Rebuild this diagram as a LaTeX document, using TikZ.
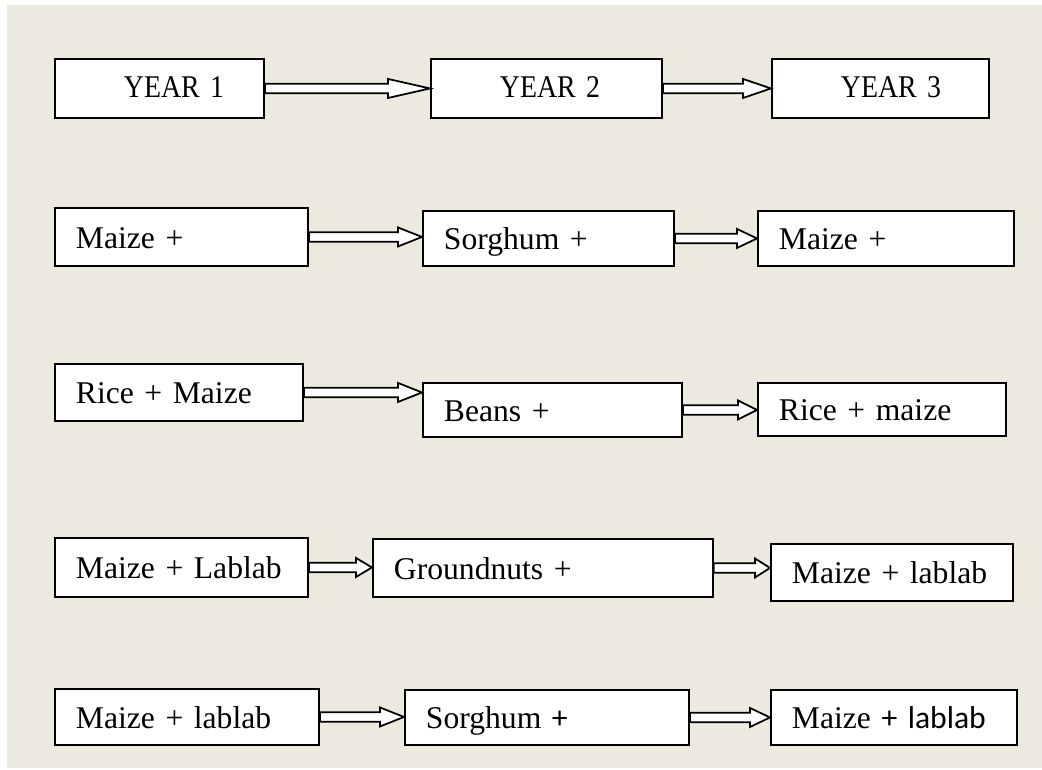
\documentclass[tikz,border=0pt]{standalone}
\usepackage{fontspec}
\setmainfont{Liberation Serif}
\newfontfamily\yearfont{Liberation Serif}[FakeStretch=0.88]
\newfontfamily\calibrifont{Carlito}
\usetikzlibrary{calc}
\definecolor{paper}{RGB}{236,233,223}

\begin{document}
\begin{tikzpicture}[x = 0.02cm, y = -0.02cm]
  \useasboundingbox (0,0) rectangle (1042,770);
  \fill[paper] (7,5) rectangle (1042,768);
  \tikzset{BoxStyle/.style 2 args = {draw,
                                     fill           = white,
                                     line width     = 1.1pt,
                                     anchor         = north west,
                                     align          = left,
                                     inner xsep     = 0.42cm,
                                     text width     = #1 cm,
                                     text height    = 0.56cm,
                                     text depth     = 0.10cm,
                                     minimum height = #2 cm,
                                     font           = \fontsize{18}{22}\selectfont}}
  \tikzset{YearStyle/.style 2 args = {BoxStyle    = {#1}{#2},
                                      text height = 0.52cm,
                                      text depth  = 0.14cm,
                                      font        = \yearfont\fontsize{18}{22}\selectfont}}
  \tikzset{ArrowStyle/.style = {draw,
                                fill       = white,
                                line width = 1pt,
                                to path    = {let \p1 = (\tikztostart), \p2 = (\tikztotarget) in
                                  (\x1,\y1+0.095cm) -- (\x2-#1,\y1+0.095cm) -- (\x2-#1,\y1+0.19cm)
                                  -- (\x2,\y1) -- (\x2-#1,\y1-0.19cm) -- (\x2-#1,\y1-0.095cm)
                                  -- (\x1,\y1-0.095cm) -- cycle}},
           ArrowStyle/.default = 0.44cm}
     % years
     \node[YearStyle = {3.34}{1.18}](Y1) at (54,58)  {\hspace*{0.96cm}YEAR 1};
     \node[YearStyle = {3.78}{1.18}](Y2) at (430,58) {\hspace*{0.96cm}YEAR 2};
     \node[YearStyle = {3.50}{1.18}](Y3) at (771,58) {\hspace*{0.96cm}YEAR 3};
     % rotations
     \node[BoxStyle = {4.22}{1.16}](A1) at (54,207)  {Maize +};
     \node[BoxStyle = {4.18}{1.10}](A2) at (422,210) {Sorghum +};
     \node[BoxStyle = {4.28}{1.10}](A3) at (757,210) {Maize +};
     \node[BoxStyle = {4.12}{1.14}](B1) at (54,363)  {Rice + Maize};
     \node[BoxStyle = {4.34}{1.08}](B2) at (422,382) {Beans +};
     \node[BoxStyle = {4.12}{1.06}](B3) at (757,382) {Rice + maize};
     \node[BoxStyle = {4.22}{1.18}](C1) at (54,537)  {Maize + Lablab};
     \node[BoxStyle = {5.96}{1.16}](C2) at (372,538) {Groundnuts +};
     \node[BoxStyle = {4.00}{1.14}](C3) at (770,543) {Maize + lablab};
     \node[BoxStyle = {4.44}{1.12}](D1) at (54,688)  {Maize + lablab};
     \node[BoxStyle = {4.84}{1.10}](D2) at (404,689) {Sorghum {\calibrifont +}};
     \node[BoxStyle = {4.08}{1.10}](D3) at (770,689) {Maize {\calibrifont + lablab}};

     \draw[ArrowStyle = 0.84cm](Y1.east) to (Y2.west);
     \draw[ArrowStyle = 0.56cm](Y2.east) to (Y3.west);
     \draw[ArrowStyle = 0.48cm](A1.east) to (A2.west);
     \draw[ArrowStyle = 0.40cm](A2.east) to (A3.west);
     \draw[ArrowStyle = 0.48cm](B1.east) to (B2.west);
     \draw[ArrowStyle = 0.38cm](B2.east) to (B3.west);
     \draw[ArrowStyle = 0.32cm](C1.east) to (C2.west);
     \draw[ArrowStyle = 0.30cm](C2.east) to (C3.west);
     \draw[ArrowStyle = 0.48cm](D1.east) to (D2.west);
     \draw[ArrowStyle = 0.40cm](D2.east) to (D3.west);

  \end{tikzpicture}
\end{document}
